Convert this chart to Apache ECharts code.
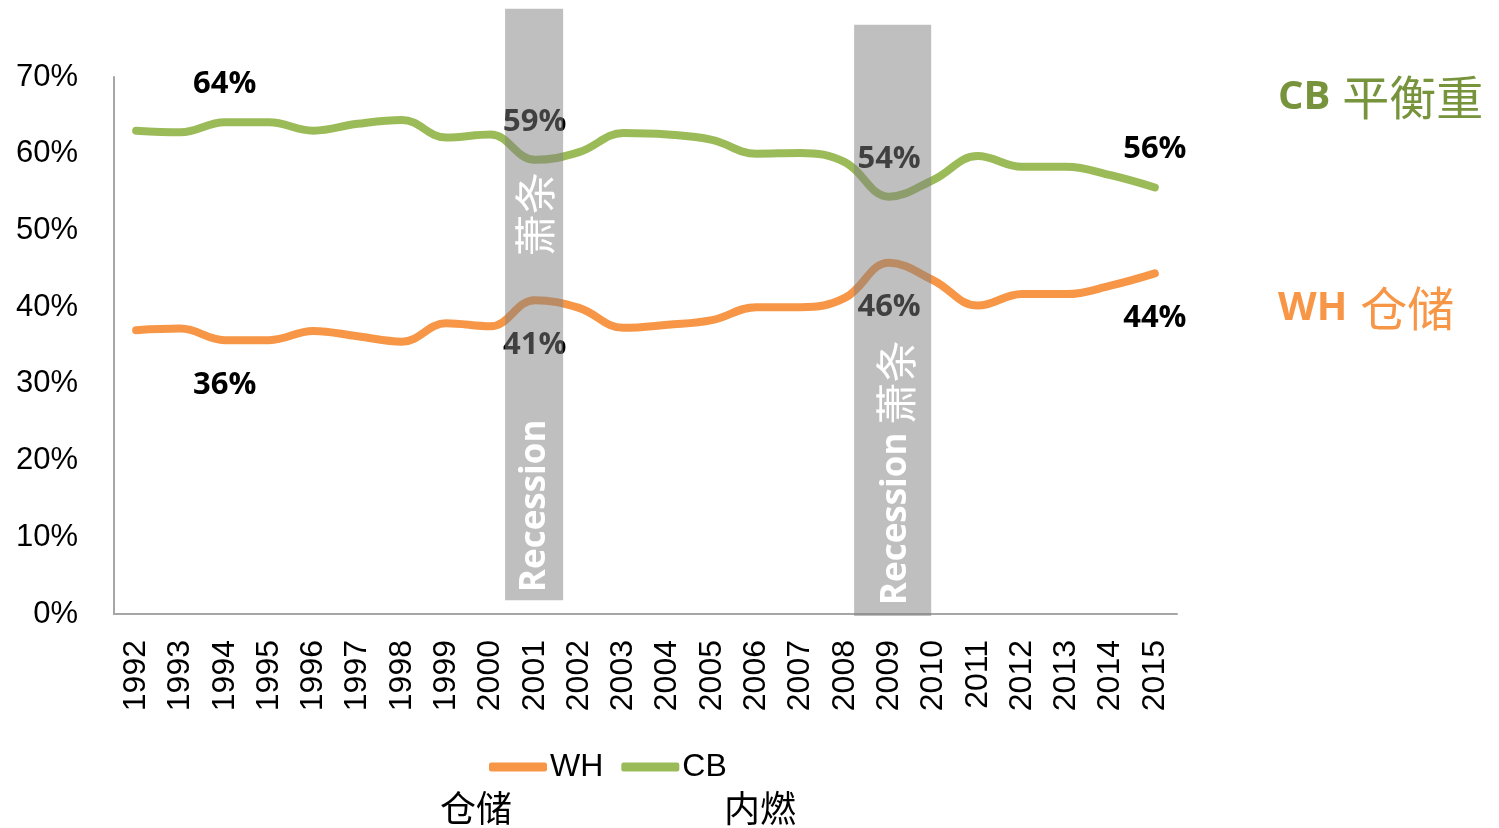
<!DOCTYPE html>
<html>
<head>
<meta charset="utf-8">
<script src="https://cdn.jsdelivr.net/npm/echarts@6/dist/echarts.min.js"></script>
<style>
  html, body { margin: 0; padding: 0; background: #fff; }
  #chart { width: 1499px; height: 828px; }
</style>
</head>
<body>
<div id="chart"></div>
<script>
// 年份
const years = ["1992", "1993", "1994", "1995", "1996", "1997", "1998", "1999", "2000", "2001", "2002", "2003",
  "2004", "2005", "2006", "2007", "2008", "2009", "2010", "2011", "2012", "2013", "2014", "2015"];
// WH 仓储 (%)
const whValues = [37.0, 37.2, 35.7, 35.7, 36.9, 36.2, 35.5, 37.9, 37.5, 40.9, 39.9, 37.3,
  37.7, 38.3, 40.0, 40.0, 41.2, 45.8, 43.5, 40.2, 41.7, 41.7, 42.8, 44.4];
// CB 平衡重 (%)
const cbValues = [63.0, 62.8, 64.1, 64.1, 63.0, 63.9, 64.4, 62.1, 62.5, 59.2, 60.2, 62.7,
  62.5, 61.8, 60.0, 60.1, 58.9, 54.4, 56.6, 59.7, 58.3, 58.3, 57.2, 55.6];
// 标注的年份
const labelYears = ["1994", "2001", "2009", "2015"];
// 萧条区间: [年份, 下沿, 上沿, 左偏移, 右偏移]
const recessions = [
  ["2001", 1.8, 78.9, -0.67, 0.64],
  ["2009", -0.26, 76.8, -0.79, 0.95]
];
const yTicks = [0, 10, 20, 30, 40, 50, 60, 70];

const sans = '"Liberation Sans", Arial, sans-serif';
const boldFont = '"Open Sans", "Noto Sans", sans-serif';
const cjk = '"Noto Sans CJK SC", sans-serif';

function withLabels(values, pos, dist) {
  return values.map(function (v, i) {
    if (labelYears.indexOf(years[i]) < 0) return v;
    return {
      value: v,
      label: {
        show: true, position: pos, distance: dist,
        formatter: function (p) { return Math.round(p.value) + "%"; },
        color: "#000", fontFamily: boldFont, fontWeight: "bold", fontSize: 31
      }
    };
  });
}

// 区间内的文字
const bandTexts = [
  [
    { text: "{c|萧条}", y: 51.6, dx: 0.0 },
    { text: "{b|Recession}", y: 14.1, dx: 0.0 }
  ],
  [
    { text: "{b|Recession}{c|萧条}", y: 18.4, dx: 0.16 }
  ]
];

const chart = echarts.init(document.getElementById("chart"));
chart.setOption({
  animation: false,
  grid: { left: 114, right: 322, top: 77, bottom: 214, containLabel: false },
  legend: {
    data: ["WH", "CB"],
    left: 484, top: 746,
    icon: "roundRect", itemWidth: 58, itemHeight: 9, itemGap: 18,
    textStyle: { fontFamily: sans, fontSize: 32, color: "#000", padding: [0, 0, 0, -2] }
  },
  xAxis: {
    type: "category",
    data: years,
    boundaryGap: true,
    axisLine: { lineStyle: { color: "#a6a6a6", width: 2 } },
    axisTick: { show: false },
    axisLabel: { interval: 0, rotate: 90, margin: 26, fontFamily: sans, fontSize: 32, color: "#000" },
    splitLine: { show: false }
  },
  yAxis: {
    type: "value",
    min: 0, max: 70, interval: 10,
    axisLine: { show: true, lineStyle: { color: "#a6a6a6", width: 2 } },
    axisTick: { show: false },
    splitLine: { show: false },
    axisLabel: {
      margin: 36, fontFamily: sans, fontSize: 31, color: "#000",
      formatter: function (v) { return yTicks.indexOf(v) >= 0 ? v + "%" : ""; }
    }
  },
  series: [
    {
      name: "WH", type: "line", smooth: 0.4,
      symbol: "circle", symbolSize: 1, showSymbol: true,
      itemStyle: { color: "#f79646" },
      lineStyle: { color: "#f79646", width: 8, cap: "round" },
      data: withLabels(whValues, "bottom", 29),
      z: 2
    },
    {
      name: "CB", type: "line", smooth: 0.4,
      symbol: "circle", symbolSize: 1, showSymbol: true,
      itemStyle: { color: "#9bbb59" },
      lineStyle: { color: "#9bbb59", width: 8, cap: "round" },
      data: withLabels(cbValues, "top", 22),
      z: 2
    },
    {
      name: "recession", type: "custom", z: 5,
      encode: { x: 0, y: [1, 2] },
      data: recessions,
      renderItem: function (params, api) {
        const idx = api.value(0);
        const lo = api.coord([idx, api.value(1)]);
        const hi = api.coord([idx, api.value(2)]);
        const w = api.size([1, 0])[0];
        const x0 = lo[0] + api.value(3) * w;
        const x1 = lo[0] + api.value(4) * w;
        const children = [{
          type: "rect",
          shape: { x: x0, y: hi[1], width: x1 - x0, height: lo[1] - hi[1] },
          style: { fill: "rgba(127,127,127,0.5)" }
        }];
        bandTexts[params.dataIndex].forEach(function (t) {
          const p = api.coord([idx, t.y]);
          children.push({
            type: "text",
            x: lo[0] + t.dx * w, y: p[1],
            rotation: Math.PI / 2,
            style: {
              text: t.text, align: "center", verticalAlign: "middle", fill: "#fff",
              rich: {
                b: { fontFamily: boldFont, fontWeight: "bold", fontSize: 35, fill: "#fff" },
                c: { fontFamily: cjk, fontSize: 42, fill: "#fff", padding: [0, 0, 0, 8] }
              }
            }
          });
        });
        return { type: "group", children: children };
      }
    }
  ],
  graphic: [
    {
      type: "text", left: 1278, top: 74,
      style: {
        text: "{a|CB}{b|平衡重}",
        rich: {
          a: { fontFamily: boldFont, fontWeight: "bold", fontSize: 40, fill: "#77933c" },
          b: { fontFamily: cjk, fontSize: 47, fill: "#77933c", padding: [0, 0, 0, 12] }
        }
      }
    },
    {
      type: "text", left: 1278, top: 285,
      style: {
        text: "{a|WH}{b|仓储}",
        rich: {
          a: { fontFamily: boldFont, fontWeight: "bold", fontSize: 40, fill: "#f79646" },
          b: { fontFamily: cjk, fontSize: 47, fill: "#f79646", padding: [0, 0, 0, 13] }
        }
      }
    },
    {
      type: "text", left: 440, top: 790,
      style: { text: "仓储", font: '36px "Noto Sans CJK SC", sans-serif', fill: "#000" }
    },
    {
      type: "text", left: 724, top: 790,
      style: { text: "内燃", font: '36px "Noto Sans CJK SC", sans-serif', fill: "#000" }
    }
  ]
});
</script>
</body>
</html>
